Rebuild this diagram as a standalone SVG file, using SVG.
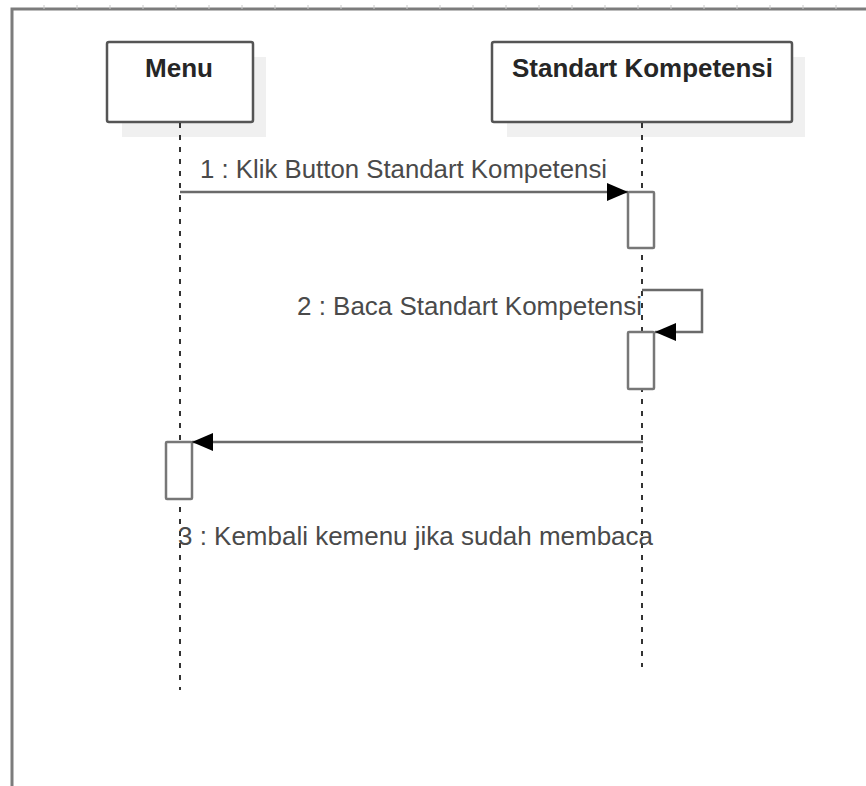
<svg xmlns="http://www.w3.org/2000/svg" width="866" height="786" viewBox="0 0 866 786">
  <defs>
    <style>
      .frame { fill: none; stroke: #7c7c7c; stroke-width: 3; }
      .tick { stroke: #c8c8c8; stroke-width: 1; }
      .shadow { fill: #f0f0f0; stroke: none; }
      .head { fill: #ffffff; stroke: #555555; stroke-width: 2.5; }
      .title { font-family: "Liberation Sans", Arial, sans-serif; font-size: 25px; font-weight: bold; fill: #262626; text-anchor: start; }
      .lifeline { fill: none; stroke: #333333; stroke-width: 2; stroke-dasharray: 5 7; }
      .act { fill: #ffffff; stroke: #777777; stroke-width: 2.5; }
      .msg { fill: none; stroke: #6a6a6a; stroke-width: 2.5; }
      .label { font-family: "Liberation Sans", Arial, sans-serif; font-size: 26px; fill: #4a4a4a; }
    </style>
    <marker id="arrow" viewBox="0 0 21 18" refX="21" refY="9" markerWidth="21" markerHeight="18" markerUnits="userSpaceOnUse" orient="auto">
      <path d="M0,0 L21,9 L0,18 Z" fill="#000000"/>
    </marker>
  </defs>

  <rect width="866" height="786" fill="#ffffff"/>

  <!-- diagram frame -->
  <g id="frame">
    <path class="frame" d="M12,786 L12,9 L866,9"/>
    <path class="tick" d="M44,5 V9 M77,5 V9 M110,5 V9 M143,5 V9 M176,5 V9 M209,5 V9 M242,5 V9 M275,5 V9 M308,5 V9 M341,5 V9 M374,5 V9 M407,5 V9 M440,5 V9 M473,5 V9 M506,5 V9 M539,5 V9 M572,5 V9 M605,5 V9 M638,5 V9 M671,5 V9 M704,5 V9 M737,5 V9 M770,5 V9 M803,5 V9 M836,5 V9"/>
  </g>

  <!-- lifeline: Menu -->
  <g id="menu">
    <rect class="shadow" x="122" y="57" width="144" height="80"/>
    <rect class="head" x="107" y="42" width="146" height="80" rx="2"/>
    <text class="title" x="145" y="77" textLength="68" lengthAdjust="spacingAndGlyphs">Menu</text>
    <line class="lifeline" x1="180" y1="123" x2="180" y2="690"/>
  </g>

  <!-- lifeline: Standart Kompetensi -->
  <g id="standart-kompetensi">
    <rect class="shadow" x="507" y="57" width="298" height="80"/>
    <rect class="head" x="492" y="42" width="300" height="80" rx="2"/>
    <text class="title" x="512" y="77" textLength="261" lengthAdjust="spacingAndGlyphs">Standart Kompetensi</text>
    <line class="lifeline" x1="642" y1="123" x2="642" y2="667"/>
  </g>

  <!-- activation bars -->
  <g id="activations">
    <rect class="act" x="628" y="192" width="26" height="56" rx="1"/>
    <rect class="act" x="628" y="332" width="26" height="57" rx="1"/>
    <rect class="act" x="166" y="442" width="26" height="57" rx="1"/>
  </g>

  <!-- messages -->
  <g id="connectors">
    <line class="msg" x1="180" y1="192" x2="628" y2="192" marker-end="url(#arrow)"/>
    <polyline class="msg" points="642,290 702,290 702,332 655,332" marker-end="url(#arrow)"/>
    <line class="msg" x1="643" y1="442" x2="192" y2="442" marker-end="url(#arrow)"/>
  </g>

  <!-- message labels -->
  <g id="labels">
    <text class="label" x="200" y="178" textLength="407" lengthAdjust="spacingAndGlyphs">1 : Klik Button Standart Kompetensi</text>
    <text class="label" x="297" y="315" textLength="345" lengthAdjust="spacingAndGlyphs">2 : Baca Standart Kompetensi</text>
    <text class="label" x="178" y="545" textLength="475" lengthAdjust="spacingAndGlyphs">3 : Kembali kemenu jika sudah membaca</text>
  </g>
</svg>
